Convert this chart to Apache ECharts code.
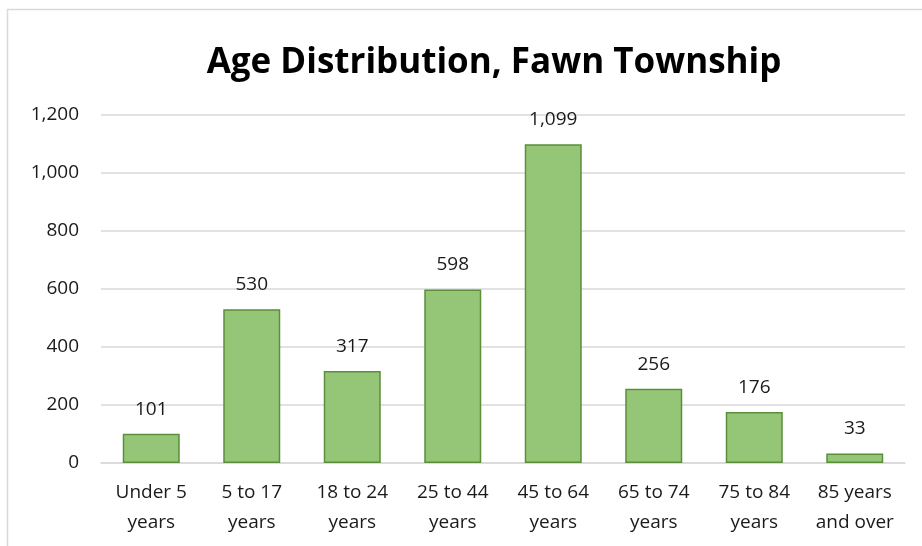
<!DOCTYPE html>
<html>
<head>
<meta charset="utf-8">
<script src="https://cdn.jsdelivr.net/npm/echarts@6/dist/echarts.min.js"></script>
<style>
  html, body { margin: 0; padding: 0; background: #fff; }
  #chart { width: 922px; height: 546px; }
</style>
</head>
<body>
<div id="chart"></div>
<script>
const categories = ['Under 5\nyears', '5 to 17\nyears', '18 to 24\nyears', '25 to 44\nyears',
  '45 to 64\nyears', '65 to 74\nyears', '75 to 84\nyears', '85 years\nand over']
const population = [101, 530, 317, 598, 1099, 256, 176, 33]

const fontFamily = '"Open Sans", Lato, sans-serif'
const fmt = (v) => Number(v).toLocaleString('en-US')

const chart = echarts.init(document.getElementById('chart'))
chart.setOption({
  animation: false,
  backgroundColor: '#fff',
  graphic: [{
    type: 'rect',
    shape: { x: 7.5, y: 9.5, width: 1200, height: 1200 },
    style: { fill: 'none', stroke: '#d9d9d9', lineWidth: 1.5 },
    silent: true,
  }],
  title: {
    text: 'Age Distribution, Fawn Township',
    left: 489, top: 41, textAlign: 'center',
    textStyle: { fontFamily, fontSize: 35, fontWeight: 'bold', color: '#000' },
  },
  grid: { left: 101, right: 17, top: 115, height: 348 },
  xAxis: {
    type: 'category',
    data: categories,
    axisTick: { show: false },
    axisLine: { lineStyle: { color: '#d9d9d9', width: 1.5 } },
    axisLabel: { fontFamily, fontSize: 19, color: '#1a1a1a', lineHeight: 30, margin: 15, interval: 0 },
  },
  yAxis: {
    type: 'value',
    min: 0, max: 1200, interval: 200,
    axisLine: { show: false },
    axisTick: { show: false },
    splitLine: { lineStyle: { color: '#d9d9d9', width: 1.5 } },
    axisLabel: { fontFamily, fontSize: 19, color: '#1a1a1a', margin: 22, formatter: fmt },
  },
  series: [{
    type: 'bar',
    data: population,
    barWidth: 57,
    itemStyle: { color: '#95c677', borderColor: '#5c8f3a', borderWidth: 1.5 },
    label: {
      show: true, position: 'top', distance: 15,
      fontFamily, fontSize: 19, color: '#1a1a1a', formatter: (p) => fmt(p.value),
    },
  }],
})
</script>
</body>
</html>
